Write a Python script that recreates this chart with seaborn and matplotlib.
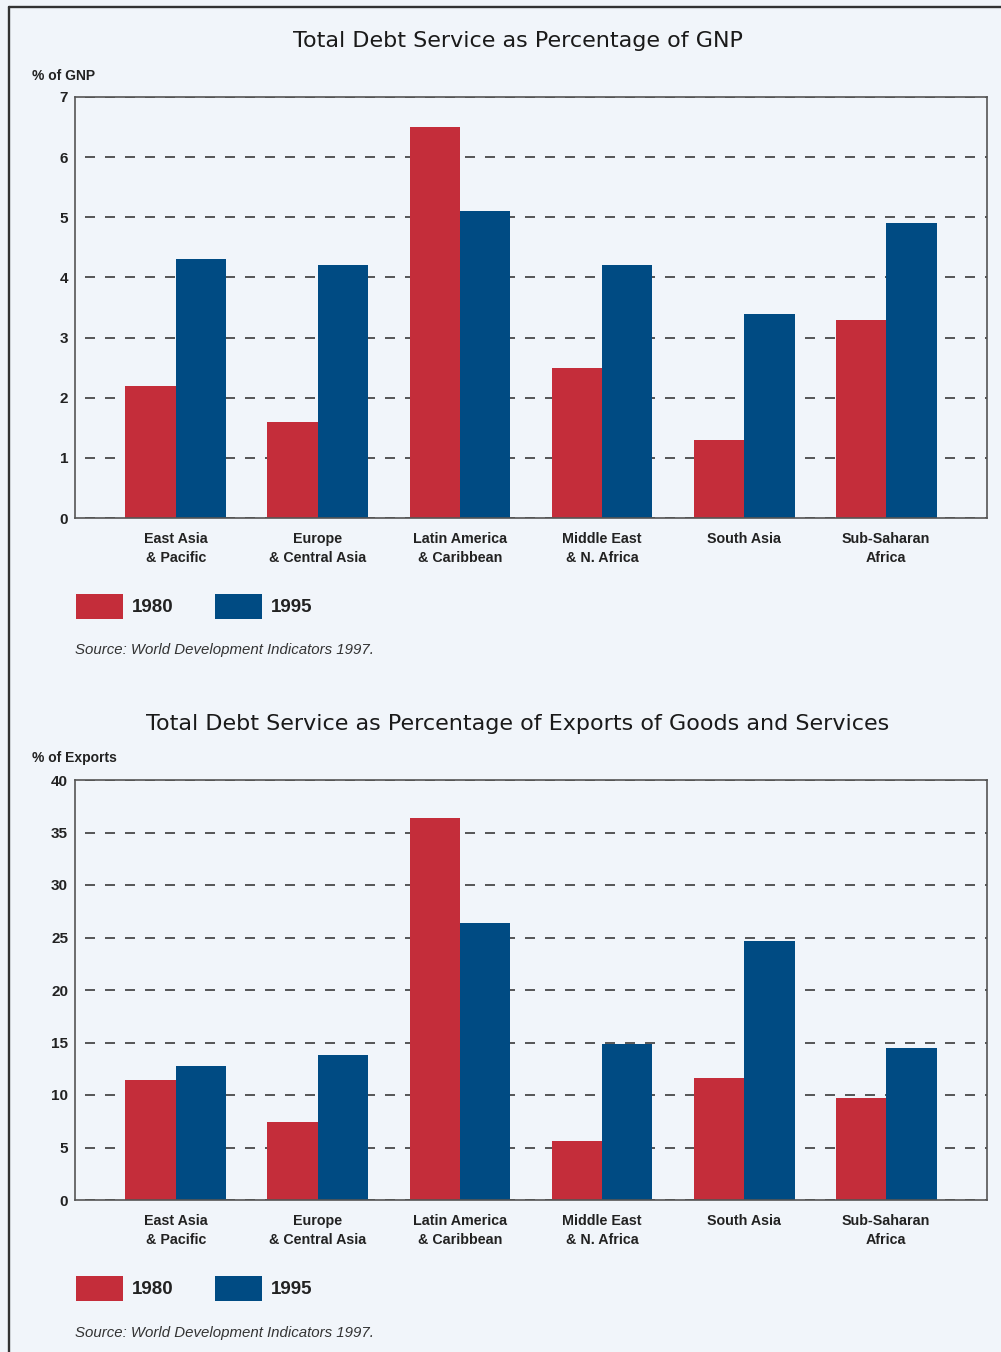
import matplotlib
matplotlib.use("Agg")
import matplotlib.pyplot as plt
from matplotlib.lines import Line2D
from matplotlib.patches import Patch
from matplotlib.transforms import ScaledTranslation
import seaborn as sns
import pandas as pd

regions = ["East Asia\n& Pacific", "Europe\n& Central Asia", "Latin America\n& Caribbean",
           "Middle East\n& N. Africa", "South Asia", "Sub-Saharan\nAfrica"]
years = ["1980", "1995"]

gnp_1980 = [2.2, 1.6, 6.5, 2.5, 1.3, 3.3]
gnp_1995 = [4.3, 4.2, 5.1, 4.2, 3.4, 4.9]

exp_1980 = [11.4, 7.4, 36.4, 5.6, 11.6, 9.7]
exp_1995 = [12.8, 13.8, 26.4, 14.9, 24.7, 14.5]

gnp_ticks = [0, 1, 2, 3, 4, 5, 6, 7]
exp_ticks = [0, 5, 10, 15, 20, 25, 30, 35, 40]

RED = "#C42D3A"
BLUE = "#004B83"
BG = "#F1F5FA"

sns.set_theme(style="white")
plt.rcParams['font.family'] = ['Liberation Sans', 'DejaVu Sans']


def make_df(v80, v95):
    return pd.DataFrame({
        'Region': regions * 2,
        'Year': [years[0]] * len(regions) + [years[1]] * len(regions),
        'Value': v80 + v95,
    })


W, H = 1001, 1352
fig = plt.figure(figsize=(W / 100, H / 100), dpi=100, facecolor=BG)


def draw_panel(df, ticks, top_px, bot_px, title, title_y, ylab, ylab_y, leg_y, src_y):
    ax = fig.add_axes([75 / W, 1 - bot_px / H, 912 / W, (bot_px - top_px) / H])
    ax.set_facecolor(BG)
    sns.barplot(data=df, x='Region', y='Value', hue='Year', hue_order=years,
                palette=[RED, BLUE], saturation=1, width=0.711, ax=ax,
                legend=False, linewidth=0, errorbar=None)
    ax.set_xlim(-0.711, len(regions) - 1 + 0.711)
    ax.set_ylim(ticks[0], ticks[-1])
    ax.set_yticks(ticks)
    ax.set_yticklabels([str(t) for t in ticks], fontsize=11, fontweight='bold', color='#222222')
    ax.set_xticks(range(len(regions)))
    ax.set_xticklabels(regions, fontsize=10.3, fontweight='bold', color='#222222', linespacing=1.5)
    # labels sit a touch left of the bar pairs in the original
    shift = ScaledTranslation(-2.5 / 100, 0, fig.dpi_scale_trans)
    for lab in ax.get_xticklabels():
        lab.set_transform(lab.get_transform() + shift)
    ax.tick_params(axis='both', length=0)
    ax.tick_params(axis='x', pad=10)
    ax.tick_params(axis='y', pad=5)
    ax.set_xlabel('')
    ax.set_ylabel('')
    ax.set_axisbelow(True)
    ax.grid(axis='y', color='#3a3a3a', linewidth=1.2, linestyle=(6, (6, 6)))
    ax.grid(axis='x', visible=False)
    for s in ax.spines.values():
        s.set_visible(True)
        s.set_color('#555555')
        s.set_linewidth(1.2)

    fig.text(518 / W, 1 - title_y / H, title, ha='center', va='center',
             fontsize=16, color='#1a1a1a', family='DejaVu Sans')
    fig.text(32 / W, 1 - ylab_y / H, ylab, ha='left', va='center',
             fontsize=10, fontweight='bold', color='#222222')

    handles = [Patch(facecolor=RED, edgecolor='none', label=years[0]),
               Patch(facecolor=BLUE, edgecolor='none', label=years[1])]
    leg = fig.legend(handles=handles, loc='upper left', ncol=2, frameon=False,
                     bbox_to_anchor=(76 / W, 1 - leg_y / H), bbox_transform=fig.transFigure,
                     borderpad=0, borderaxespad=0, handlelength=2.5, handleheight=1.65,
                     handletextpad=0.5, columnspacing=2.2,
                     prop={'family': 'Liberation Sans', 'weight': 'bold', 'size': 13.5})
    for t in leg.get_texts():
        t.set_color('#222222')

    fig.text(75 / W, 1 - src_y / H, "Source: World Development Indicators 1997.",
             ha='left', va='center', fontsize=10.8, style='italic', color='#333333')
    return ax


draw_panel(make_df(gnp_1980, gnp_1995), gnp_ticks, 97, 518,
           "Total Debt Service as Percentage of GNP", 41, "% of GNP", 76, 594, 650)
draw_panel(make_df(exp_1980, exp_1995), exp_ticks, 780, 1200,
           "Total Debt Service as Percentage of Exports of Goods and Services", 724,
           "% of Exports", 758, 1276, 1333)

# outer frame (top and left edges only)
fig.add_artist(Line2D([8.5 / W, 1.0], [1 - 6.5 / H, 1 - 6.5 / H], transform=fig.transFigure,
                      color='#333333', linewidth=1.7))
fig.add_artist(Line2D([8.5 / W, 8.5 / W], [1 - 6.5 / H, 0.0], transform=fig.transFigure,
                      color='#333333', linewidth=1.7))

fig.savefig('out.png', dpi=100, facecolor=BG)
